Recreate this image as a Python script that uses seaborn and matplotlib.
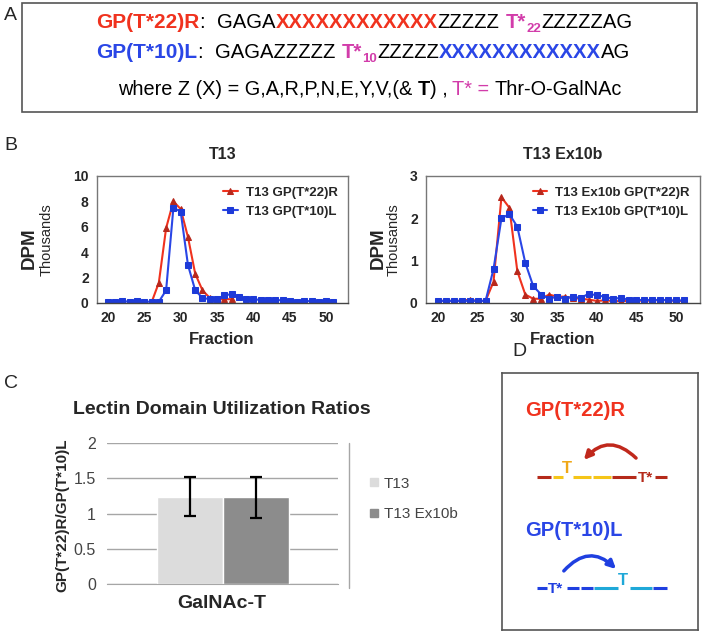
import matplotlib
matplotlib.use("Agg")
import pandas as pd
import matplotlib.pyplot as plt
import seaborn as sns
from matplotlib.patches import Rectangle, FancyArrowPatch
from matplotlib.lines import Line2D

# ---- data: panel B (DPM, thousands) ----
fractions = list(range(20, 52))
t13_r_fractions = list(range(26, 38))
t13_r = [0.05, 1.6, 5.9, 8.0, 7.4, 5.2, 2.3, 1.0, 0.4, 0.3, 0.3, 0.3]
t13_l = [0.1, 0.1, 0.15, 0.1, 0.15, 0.1, 0.1, 0.1,
         1.0, 7.5, 7.2, 3.0, 1.0, 0.4,
         0.3, 0.3, 0.6, 0.7, 0.5, 0.35, 0.35, 0.2, 0.2, 0.25, 0.2, 0.15,
         0.1, 0.15, 0.15, 0.1, 0.15, 0.1]
ex10b_r = [0.05, 0.05, 0.05, 0.05, 0.08, 0.05, 0.05,
           0.5, 2.5, 2.25, 0.75, 0.2, 0.1, 0.1,
           0.2, 0.15, 0.15, 0.12, 0.1, 0.08, 0.05, 0.06, 0.05, 0.04, 0.05,
           0.05, 0.06, 0.05, 0.08, 0.06, 0.05, 0.05]
ex10b_l = [0.05, 0.05, 0.05, 0.05, 0.05, 0.05, 0.05,
           0.8, 2.0, 2.1, 1.8, 0.95, 0.4, 0.2,
           0.1, 0.15, 0.1, 0.15, 0.12, 0.22, 0.18, 0.15, 0.1, 0.12, 0.08,
           0.06, 0.08, 0.06, 0.08, 0.06, 0.06, 0.06]

# ---- data: panel C ----
enzymes = ["GalNAc-T", "GalNAc-T"]
variants = ["T13", "T13 Ex10b"]
ratios = [1.24, 1.23]
ratio_err = [0.28, 0.29]

RED = "#f0321e"
RED_MK = "#b8281c"
BLUE = "#2a46e6"
BLUE_MK = "#1d3ad8"
MAG = "#d23caa"

sns.set_style("white")
plt.rcParams["font.family"] = ["Liberation Sans", "DejaVu Sans"]

W, H = 702, 633
fig = plt.figure(figsize=(W / 100, H / 100), dpi=100)
renderer = fig.canvas.get_renderer()


def fx(px):
    return px / W


def fy(py):
    return 1 - py / H


def add_axes_px(left, top, right, bottom):
    return fig.add_axes([left / W, 1 - bottom / H, (right - left) / W, (bottom - top) / H])


def put_runs(x, y, runs):
    # runs: (text, color, weight, size, dy, gap after)
    for txt, color, weight, sz, dy, gap in runs:
        t = fig.text(fx(x), fy(y + dy), txt, color=color, fontweight=weight,
                     fontsize=sz, ha="left", va="baseline")
        x += t.get_window_extent(renderer).width + gap


# ================= panel A =================
fig.text(fx(4), fy(16), "A", fontsize=14, va="center")
fig.add_artist(Rectangle((fx(22), fy(112)), fx(697) - fx(22), fy(3) - fy(112),
                         transform=fig.transFigure, fill=False, ec="#555555", lw=1.2))
S = 14.6
put_runs(96, 28, [
    ("GP(T*22)R", RED, "bold", 15, 0, 0),
    (":", "black", "normal", S, 0, 12),
    ("GAGA", "black", "normal", S, 0, 0),
    ("X" * 12, RED, "bold", S, 0, 0),
    ("ZZZZZ", "black", "normal", S, 0, 7),
    ("T*", MAG, "bold", S, 0, 0),
    ("22", MAG, "bold", 9.5, 4, 0),
    ("ZZZZZAG", "black", "normal", S, 0, 0),
])
put_runs(96, 58, [
    ("GP(T*10)L", BLUE, "bold", 15, 0, 0),
    (":", "black", "normal", S, 0, 12),
    ("GAGAZZZZZ", "black", "normal", S, 0, 7),
    ("T*", MAG, "bold", S, 0, 0),
    ("10", MAG, "bold", 9.5, 4, 0),
    ("ZZZZZ", "black", "normal", S, 0, 0),
    ("X" * 12, BLUE, "bold", S, 0, 0),
    ("AG", "black", "normal", S, 0, 0),
])
put_runs(118, 95, [
    ("where Z (X) = G,A,R,P,N,E,Y,V,(&", "black", "normal", 14.3, 0, 5),
    ("T", "black", "bold", 14.3, 0, 0),
    (") ,", "black", "normal", 14.3, 0, 5),
    ("T* =", MAG, "normal", 14.3, 0, 5),
    ("Thr-O-GalNAc", "black", "normal", 14.3, 0, 0),
])

# ================= panel B =================
fig.text(fx(4), fy(146), "B", fontsize=14, va="center")


def dpm_panel(ax, r_x, r_y, l_y, r_label, l_label, ymax, title):
    sns.lineplot(x=r_x, y=r_y, ax=ax, color=RED, lw=1.5, marker="^", markersize=5,
                 markerfacecolor=RED_MK, markeredgecolor=RED_MK, label=r_label)
    sns.lineplot(x=fractions, y=l_y, ax=ax, color=BLUE, lw=1.5, marker="s", markersize=5,
                 markerfacecolor=BLUE_MK, markeredgecolor=BLUE_MK, label=l_label)
    ax.set_xlim(18.5, 53)
    ax.set_ylim(0, ymax)
    ax.set_xticks(range(20, 55, 5))
    ax.set_yticks(range(0, ymax + 1, 2 if ymax > 5 else 1))
    ax.set_xlabel("")
    ax.set_ylabel("")
    ax.tick_params(length=0, pad=6, labelsize=10)
    for lab in ax.get_xticklabels() + ax.get_yticklabels():
        lab.set_fontweight("bold")
    for sp in ax.spines.values():
        sp.set_color("#777777")
        sp.set_linewidth(1.0)
    ax.spines["bottom"].set_color("#444444")
    ax.legend(loc="upper right", frameon=False, handlelength=1.1, handletextpad=0.6,
              labelspacing=0.5, borderaxespad=0.4, prop=dict(weight="bold", size=9.5))
    ax.set_title(title, fontsize=11.5, fontweight="bold", pad=12)


axL = add_axes_px(97, 176, 348, 303)
dpm_panel(axL, t13_r_fractions, t13_r, t13_l, "T13 GP(T*22)R", "T13 GP(T*10)L", 10, "T13")
axR = add_axes_px(426, 176, 700, 303)
dpm_panel(axR, fractions, ex10b_r, ex10b_l, "T13 Ex10b GP(T*22)R", "T13 Ex10b GP(T*10)L", 3, "T13 Ex10b")

for xl, xt in [(29, 47), (378, 394)]:
    fig.text(fx(xl), fy(248), "DPM", fontsize=13.5, fontweight="bold", rotation=90, ha="center", va="center")
    fig.text(fx(xt), fy(240), "Thousands", fontsize=10.5, rotation=90, ha="center", va="center")
for xc in [222, 563]:
    fig.text(fx(xc), fy(340), "Fraction", fontsize=12, fontweight="bold", ha="center", va="center")

# ================= panel C =================
fig.text(fx(4), fy(384), "C", fontsize=14, va="center")
df_c = pd.DataFrame({"enzyme": enzymes, "variant": variants, "ratio": ratios})
axC = add_axes_px(107, 443, 338, 584)
sns.barplot(data=df_c, x="enzyme", y="ratio", hue="variant", ax=axC, width=0.8,
            palette=["#dcdcdc", "#8c8c8c"], errorbar=None, saturation=1, legend=False)
for bar, err in zip(axC.patches, ratio_err):
    axC.errorbar(bar.get_x() + bar.get_width() / 2, bar.get_height(), yerr=err,
                 color="black", lw=1.6, capsize=4, capthick=1.6)
axC.set_xlim(-0.7, 0.7)
axC.set_ylim(0, 2)
axC.set_yticks([0, 0.5, 1, 1.5, 2])
axC.set_yticklabels(["0", "0.5", "1", "1.5", "2"])
axC.yaxis.grid(True, color="#a6a6a6", lw=1)
axC.set_axisbelow(True)
for side in ["left", "right", "top"]:
    axC.spines[side].set_visible(False)
axC.spines["bottom"].set_color("#a6a6a6")
axC.tick_params(length=0, labelsize=11.5, labelcolor="#444444", pad=8)
axC.set_xticklabels([])
axC.set_xlabel("")
axC.set_ylabel("")
fig.text(fx(222), fy(410), "Lectin Domain Utilization Ratios", fontsize=14, fontweight="bold",
         ha="center", va="center")
fig.text(fx(62), fy(515), "GP(T*22)R/GP(T*10)L", fontsize=11, fontweight="bold",
         rotation=90, ha="center", va="center")
fig.text(fx(222), fy(603), "GalNAc-T", fontsize=14, fontweight="bold", ha="center", va="center")
fig.add_artist(Line2D([fx(349), fx(349)], [fy(443), fy(588)], transform=fig.transFigure,
                      color="#a6a6a6", lw=1))
leg_handles = [Line2D([], [], ls="", marker="s", markersize=6, color=c) for c in ["#dcdcdc", "#8c8c8c"]]
fig.legend(leg_handles, variants, loc="center left", bbox_to_anchor=(fx(353), fy(499)),
           frameon=False, labelcolor="#444444", fontsize=11, handletextpad=0.1, labelspacing=1.1,
           handlelength=1.0)

# ================= panel D =================
fig.text(fx(512), fy(352), "D", fontsize=14, va="center")
axD = add_axes_px(502, 373, 698, 630)
axD.set_xlim(502, 698)
axD.set_ylim(630, 373)
axD.set_xticks([])
axD.set_yticks([])
for sp in axD.spines.values():
    sp.set_color("#555555")
    sp.set_linewidth(1.2)

DRED = "#b52a1a"
YEL = "#f5c518"
ORG = "#f0a818"
DBLUE = "#1f3fe0"
CYAN = "#1fa8d8"
axD.text(525, 410, "GP(T*22)R", color=RED, fontsize=14.5, fontweight="bold", va="center")
for x0, x1, c in [(537, 551, DRED), (553, 563, YEL), (573, 591, YEL), (593, 611, YEL),
                  (612, 636, DRED), (655, 667, DRED)]:
    axD.plot([x0, x1], [477, 477], color=c, lw=2.2, solid_capstyle="butt")
axD.text(567, 473, "T", color=ORG, fontsize=12, fontweight="bold", ha="center", va="baseline")
axD.text(645, 482, "T*", color=DRED, fontsize=11, fontweight="bold", ha="center", va="baseline")
axD.add_patch(FancyArrowPatch((638, 460), (582, 462), connectionstyle="arc3,rad=0.55",
                              arrowstyle="-|>", mutation_scale=12, color="#c0281c", lw=2.5))

axD.text(525, 530, "GP(T*10)L", color=BLUE, fontsize=14.5, fontweight="bold", va="center")
for x0, x1, c in [(537, 547, DBLUE), (567, 579, DBLUE), (581, 593, DBLUE), (594, 618, CYAN),
                  (630, 652, CYAN), (653, 667, DBLUE)]:
    axD.plot([x0, x1], [588, 588], color=c, lw=2.2, solid_capstyle="butt")
axD.text(556, 593, "T*", color=DBLUE, fontsize=11, fontweight="bold", ha="center", va="baseline")
axD.text(623, 585, "T", color=CYAN, fontsize=12, fontweight="bold", ha="center", va="baseline")
axD.add_patch(FancyArrowPatch((562, 573), (618, 571), connectionstyle="arc3,rad=-0.55",
                              arrowstyle="-|>", mutation_scale=12, color=DBLUE, lw=2.5))

fig.savefig("out.png", dpi=100)
